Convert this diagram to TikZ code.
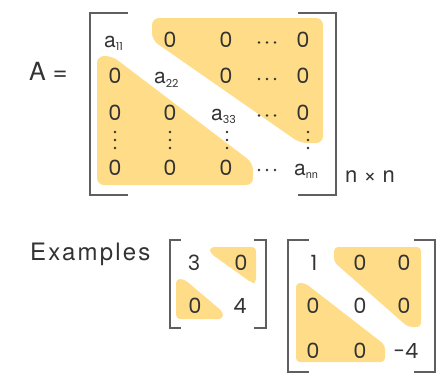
\documentclass[tikz,border=0pt]{standalone}
\usepackage{fontspec}
\setmainfont{Poppins}
\newfontfamily\latf{TeX Gyre Heros}
\newfontfamily\latsp[LetterSpace=9]{TeX Gyre Heros}
\definecolor{hl}{RGB}{255,220,135}
\definecolor{tc}{RGB}{51,51,51}
\definecolor{bc}{RGB}{95,95,95}
\newcommand\subidx[1]{\raisebox{-3.5pt}{\fontsize{11}{11}\selectfont #1}}
\newcommand\ael[1]{{\latf a}\subidx{#1}}
\begin{document}
\begin{tikzpicture}[x=1pt,y=-1pt,
  txt/.style={inner sep=0pt, text=tc, anchor=base, font=\fontsize{21}{21}\selectfont},
  atxt/.style={inner sep=0pt, text=tc, anchor=base west, font=\fontsize{21}{21}\selectfont},
  lbl/.style={inner sep=0pt, text=tc, anchor=base west, font=\latf\fontsize{25}{25}\selectfont},
  hlfill/.style={fill=hl, rounded corners=7pt},
  hlsmall/.style={fill=hl, rounded corners=4pt},
  brk/.style={draw=bc, line width=1.4pt},
  dotf/.style={fill=tc}]
\useasboundingbox (0,0) rectangle (447,381);

% ---------- highlights, main matrix
\path[hlfill] (152,18) -- (323,18) -- (323,143) -- (300,143) -- (152,40) -- cycle;
\path[hlfill] (97,56) -- (112,56) -- (253,163) -- (253,185) -- (97,185) -- cycle;

% ---------- brackets, main matrix
\draw[brk] (128,13) -| (90,195) -- (128,195);
\draw[brk] (298,13) -| (336,195) -- (298,195);

% ---------- label
\node[lbl] (Aeq) at (29,80) {A =};

% ---------- entries row 1
\node[atxt] (a11) at (104,47) {\ael{11}};
\node[txt] (r1c2) at (170,47) {0};
\node[txt] (r1c3) at (226,47) {0};
\node[txt] (r1c5) at (303,47) {0};
% row 2
\node[txt] (r2c1) at (115,83.5) {0};
\node[atxt] (a22) at (154,83.5) {\ael{22}};
\node[txt] (r2c3) at (226,83.5) {0};
\node[txt] (r2c5) at (303,83.5) {0};
% row 3
\node[txt] (r3c1) at (115,120) {0};
\node[txt] (r3c2) at (170,120) {0};
\node[atxt] (a33) at (211,120) {\ael{33}};
\node[txt] (r3c5) at (303,120) {0};
% row 5
\node[txt] (r5c1) at (115,175) {0};
\node[txt] (r5c2) at (170,175) {0};
\node[txt] (r5c3) at (226,175) {0};
\node[atxt] (ann) at (294,175) {{\latf a}\subidx{\latf nn}};

% dots
\foreach \yy in {42.5,79,115.5,170}
  \foreach \xx in {259,267,275}
    \fill[dotf] (\xx,\yy) circle (1.3);
\foreach \xx in {115,170,227,308}
  \foreach \yy in {132,140,148}
    \fill[dotf] (\xx,\yy) circle (1.3);

\node[lbl, font=\latf\fontsize{22}{22}\selectfont] (nxn) at (345,182) {n × n};

% ---------- examples
\node[lbl, font=\latsp\fontsize{24}{24}\selectfont] (ex) at (30,260) {Examples};

% matrix 1
\path[hlsmall] (210,247) -- (256,247) -- (256,283) -- (252,283) -- (210,253) -- cycle;
\path[hlsmall] (176,279) -- (184,279) -- (223,312) -- (223,319) -- (176,319) -- cycle;
\draw[brk] (181,240) -| (170,328) -- (181,328);
\draw[brk] (254,240) -| (266,328) -- (254,328);
\node[txt] (m1a) at (194,270) {3};
\node[txt] (m1b) at (241,270) {0};
\node[txt] (m1c) at (195,313) {0};
\node[txt] (m1d) at (240,313) {4};

% matrix 2
\path[hlsmall] (334,247) -- (421,247) -- (421,327) -- (408,327) -- (334,262) -- cycle;
\path[hlsmall] (296,283) -- (305,283) -- (385,345) -- (385,362) -- (296,362) -- cycle;
\draw[brk] (309,240) -| (288,372) -- (309,372);
\draw[brk] (414,240) -| (435,372) -- (414,372);
\node[txt] (m2a) at (314,270) {1};
\node[txt] (m2b) at (360,270) {0};
\node[txt] (m2c) at (404,270) {0};
\node[txt] (m2d) at (313,313) {0};
\node[txt] (m2e) at (360,313) {0};
\node[txt] (m2f) at (404,313) {0};
\node[txt] (m2g) at (313,358) {0};
\node[txt] (m2h) at (360,358) {0};
\node[txt] (m2i) at (406,358) {-4};
\end{tikzpicture}
\end{document}
